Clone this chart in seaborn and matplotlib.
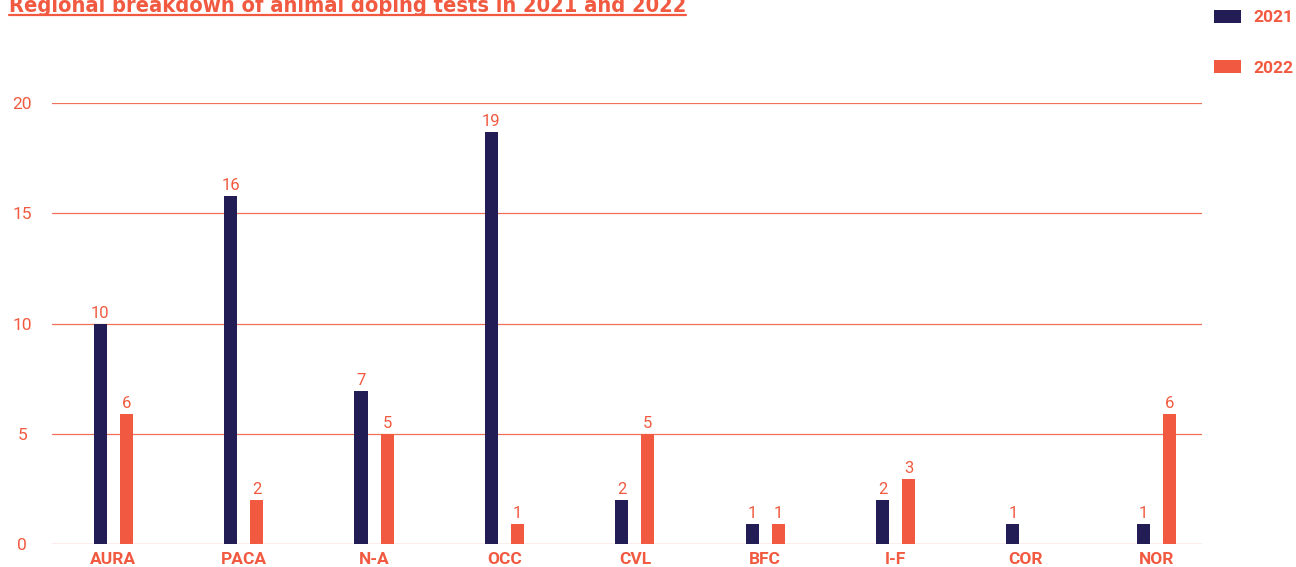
import pandas as pd
import matplotlib
matplotlib.use("Agg")
import matplotlib.pyplot as plt
from matplotlib.lines import Line2D
import seaborn as sns

# data
regions = ["AURA", "PACA", "N-A", "OCC", "CVL", "BFC", "I-F", "COR", "NOR"]
years = ["2021", "2022"]
tests_2021 = [10, 15.8, 6.95, 18.7, 2, 0.9, 2, 0.9, 0.9]
tests_2022 = [5.9, 2, 5, 0.9, 5, 0.9, 2.95, 0, 5.9]
y_ticks = [0, 5, 10, 15, 20]
title = "Regional breakdown of animal doping tests in 2021 and 2022"

navy = "#231d55"
orange = "#f15a40"
grid_col = "#f07058"

df = pd.DataFrame({
    "region": regions * 2,
    "year": [years[0]] * len(regions) + [years[1]] * len(regions),
    "tests": tests_2021 + tests_2022,
})

sns.set_style("white")
plt.rcParams["font.family"] = ["Roboto", "DejaVu Sans"]

fig = plt.figure(figsize=(12.96, 5.67), dpi=100)
ax = fig.add_axes([52 / 1296, 1 - 544 / 567, (1202 - 52) / 1296, (544 - 103) / 567])

sns.barplot(data=df, x="region", y="tests", hue="year", palette=[navy, orange],
            saturation=1, width=0.4, gap=0.5, linewidth=0, ax=ax)

for cont in ax.containers:
    vals = [b.get_height() for b in cont]
    labels = [f"{v:.0f}" if v > 0 else "" for v in vals]
    ax.bar_label(cont, labels=labels, padding=2, color=orange, fontsize=12)

ax.set_xlim(-0.47, 8.35)
ax.set_ylim(0, 20)
ax.set_yticks(y_ticks)
ax.set_yticklabels([str(t) for t in y_ticks])
ax.grid(axis="y", color=grid_col, linewidth=0.9)
ax.set_axisbelow(True)
for s in ax.spines.values():
    s.set_visible(False)
ax.tick_params(axis="both", length=0, colors=orange, labelsize=12.5)
ax.tick_params(axis="y", pad=21.5)
ax.tick_params(axis="x", pad=6)
for lab in ax.get_yticklabels():
    lab.set_horizontalalignment("center")
for lab in ax.get_xticklabels():
    lab.set_fontweight("semibold")
ax.set_xlabel("")
ax.set_ylabel("")

handles, labels = ax.get_legend_handles_labels()
ax.get_legend().remove()
fig.legend(handles, labels, loc="upper left", bbox_to_anchor=(1214 / 1296, 1 - 10 / 567),
           frameon=False, handlelength=1.55, handleheight=0.75,
           labelspacing=2.0, handletextpad=0.7, borderpad=0, borderaxespad=0,
           labelcolor=orange, prop={"weight": "semibold", "size": 12.5})

# title, clipped at the top like the reference, with underline
t = fig.text(9 / 1296, 1 - 12 / 567, title, color=orange, fontsize=19, fontweight="bold",
             family="DejaVu Sans", fontstretch="condensed", ha="left", va="baseline")
fig.canvas.draw()
bb = t.get_window_extent()
if bb.width > 0:
    t.set_fontsize(19 * 680 / bb.width)
    fig.canvas.draw()
    bb = t.get_window_extent()
uy = 1 - 14.5 / 567
fig.add_artist(Line2D([bb.x0 / 1296, bb.x1 / 1296], [uy, uy], color=orange, linewidth=1.6,
                      transform=fig.transFigure))

fig.savefig("out.png", dpi=100)
